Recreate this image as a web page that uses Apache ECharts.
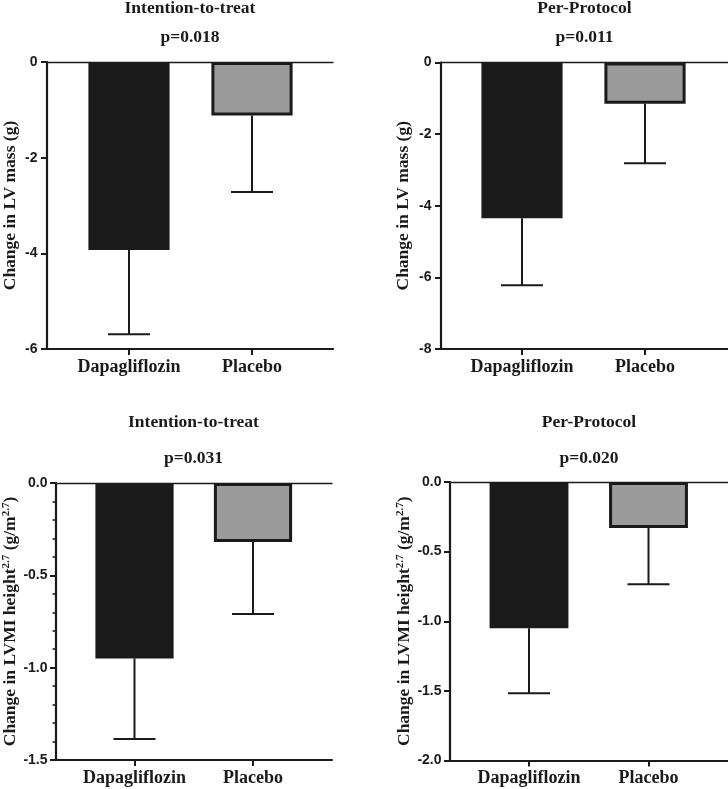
<!DOCTYPE html>
<html>
<head>
<meta charset="utf-8">
<script src="https://cdn.jsdelivr.net/npm/echarts@6/dist/echarts.min.js"></script>
<style>
html,body{margin:0;padding:0;background:#fff;}
#chart{width:728px;height:789px;}
</style>
</head>
<body>
<div id="chart"></div>
<script>
// ---- data ----
const categories = ['Dapagliflozin', 'Placebo'];
const panelTitles = ['Intention-to-treat', 'Per-Protocol', 'Intention-to-treat', 'Per-Protocol'];
const pValues = ['p=0.018', 'p=0.011', 'p=0.031', 'p=0.020'];
const yNames = [
  'Change in LV mass (g)',
  'Change in LV mass (g)',
  'Change in LVMI height{sup|2.7} (g/m{sup|2.7})',
  'Change in LVMI height{sup|2.7} (g/m{sup|2.7})'
];
const massITTMean = [-3.93, -1.12];
const massITTErr = [1.76, 1.60];
const massPPMean = [-4.35, -1.15];
const massPPErr = [1.87, 1.66];
const lvmiITTMean = [-0.95, -0.32];
const lvmiITTErr = [0.436, 0.39];
const lvmiPPMean = [-1.05, -0.33];
const lvmiPPErr = [0.467, 0.405];
const yMin = [-6, -8, -1.5, -2];
const yMax = [0, 0, 0, 0];
const yInterval = [2, 2, 0.5, 0.5];
const yDecimals = [0, 0, 1, 1];
const hasMinorTicks = [false, false, true, false];

const means = [massITTMean, massPPMean, lvmiITTMean, lvmiPPMean];
const errs = [massITTErr, massPPErr, lvmiITTErr, lvmiPPErr];

// ---- layout ----
const frames = [
  {left: 47, top: 62, width: 286, height: 287, barLeft: 67.5, barWidth: 246, nameGap: 28, labelMargin: 9.5, titleY: 8.5, pY: 37},
  {left: 441, top: 62.5, width: 287, height: 286.5, barLeft: 460.5, barWidth: 246, nameGap: 29, labelMargin: 9.5, titleY: 8.5, pY: 37},
  {left: 55, top: 483, width: 277, height: 277, barLeft: 75.25, barWidth: 237, nameGap: 34, labelMargin: 8.5, titleY: 422, pY: 458},
  {left: 450, top: 482, width: 278, height: 278.5, barLeft: 469.25, barWidth: 239, nameGap: 35, labelMargin: 8.5, titleY: 422, pY: 458}
];

const INK = '#1a1a1a';
const SERIF = '"Liberation Serif", "Times New Roman", serif';
const SANS = '"Liberation Sans", Arial, sans-serif';
const barColors = ['#1a1a1a', '#9b9b9b'];

const grid = [], xAxis = [], yAxis = [], series = [], graphic = [];

frames.forEach((f, i) => {
  const gFrame = grid.length;
  grid.push({left: f.left, top: f.top, width: f.width, height: f.height, containLabel: false});
  const gBars = grid.length;
  grid.push({left: f.barLeft, top: f.top, width: f.barWidth, height: f.height, containLabel: false});

  // frame bottom axis line
  xAxis.push({
    gridIndex: gFrame, type: 'category', data: [''], position: 'bottom',
    axisLine: {show: true, onZero: false, lineStyle: {color: INK, width: 2.2}},
    axisTick: {show: false}, axisLabel: {show: false}, splitLine: {show: false}
  });
  // frame top (zero) line
  xAxis.push({
    gridIndex: gFrame, type: 'category', data: [''], position: 'top',
    axisLine: {show: true, onZero: false, lineStyle: {color: INK, width: 1.3}},
    axisTick: {show: false}, axisLabel: {show: false}, splitLine: {show: false}
  });
  const xBarsIdx = xAxis.length;
  xAxis.push({
    gridIndex: gBars, type: 'category', data: categories, position: 'bottom',
    axisLine: {show: false, onZero: false},
    axisTick: {show: true, interval: 0, alignWithLabel: true, length: 6, lineStyle: {color: INK, width: 2}},
    axisLabel: {show: true, interval: 0, hideOverlap: false, margin: 9, color: INK,
      fontFamily: SERIF, fontWeight: 'bold', fontSize: 18},
    splitLine: {show: false}
  });

  const dec = yDecimals[i];
  yAxis.push({
    gridIndex: gFrame, type: 'value', min: yMin[i], max: yMax[i], interval: yInterval[i],
    axisLine: {show: true, lineStyle: {color: INK, width: 2.2}},
    axisTick: {show: true, length: 6, lineStyle: {color: INK, width: 2}},
    minorTick: {show: hasMinorTicks[i], splitNumber: 5, length: 3.5, lineStyle: {color: INK, width: 1.5}},
    splitLine: {show: false},
    axisLabel: {margin: f.labelMargin, color: INK, fontFamily: SANS, fontWeight: 'bold', fontSize: 14,
      formatter: v => Number(v).toFixed(dec)},
    name: yNames[i], nameLocation: 'middle', nameGap: f.nameGap, nameRotate: 90,
    nameTextStyle: {color: INK, fontFamily: SERIF, fontWeight: 'bold', fontSize: 17.5,
      rich: {sup: {fontFamily: SERIF, fontWeight: 'bold', fontSize: 11, color: INK, verticalAlign: 'top', padding: [0, 0, 8, 0]}}}
  });
  const yBarsIdx = yAxis.length;
  yAxis.push({
    gridIndex: gBars, type: 'value', min: yMin[i], max: yMax[i], interval: yInterval[i], show: false
  });

  series.push({
    type: 'bar', xAxisIndex: xBarsIdx, yAxisIndex: yBarsIdx, barWidth: '66%',
    data: means[i].map((m, k) => ({
      value: m,
      itemStyle: {color: barColors[k], borderColor: INK, borderWidth: k === 0 ? 0 : 3}
    })),
    silent: true, animation: false
  });
  series.push({
    type: 'custom', xAxisIndex: xBarsIdx, yAxisIndex: yBarsIdx, silent: true, animation: false,
    data: means[i].map((m, k) => [k, m, errs[i][k]]),
    encode: {x: 0, y: 1},
    renderItem: (params, api) => {
      const x = api.value(0), m = api.value(1), e = api.value(2);
      const p0 = api.coord([x, m]);
      const p1 = api.coord([x, m - e]);
      const hw = 21;
      const st = {stroke: INK, lineWidth: 2};
      return {type: 'group', children: [
        {type: 'line', shape: {x1: p0[0], y1: p0[1], x2: p1[0], y2: p1[1]}, style: st},
        {type: 'line', shape: {x1: p1[0] - hw, y1: p1[1], x2: p1[0] + hw, y2: p1[1]}, style: st}
      ]};
    }
  });

  const cx = f.left + f.width / 2;
  graphic.push({type: 'text', x: cx, y: f.titleY, silent: true,
    style: {text: panelTitles[i], align: 'center', verticalAlign: 'middle', fill: INK,
      font: 'bold 17.5px ' + SERIF}});
  graphic.push({type: 'text', x: cx, y: f.pY, silent: true,
    style: {text: pValues[i], align: 'center', verticalAlign: 'middle', fill: INK,
      font: 'bold 17.5px ' + SERIF}});
});

const chart = echarts.init(document.getElementById('chart'), null, {renderer: 'canvas'});
chart.setOption({
  animation: false,
  backgroundColor: '#ffffff',
  grid, xAxis, yAxis, series, graphic
});
</script>
</body>
</html>
